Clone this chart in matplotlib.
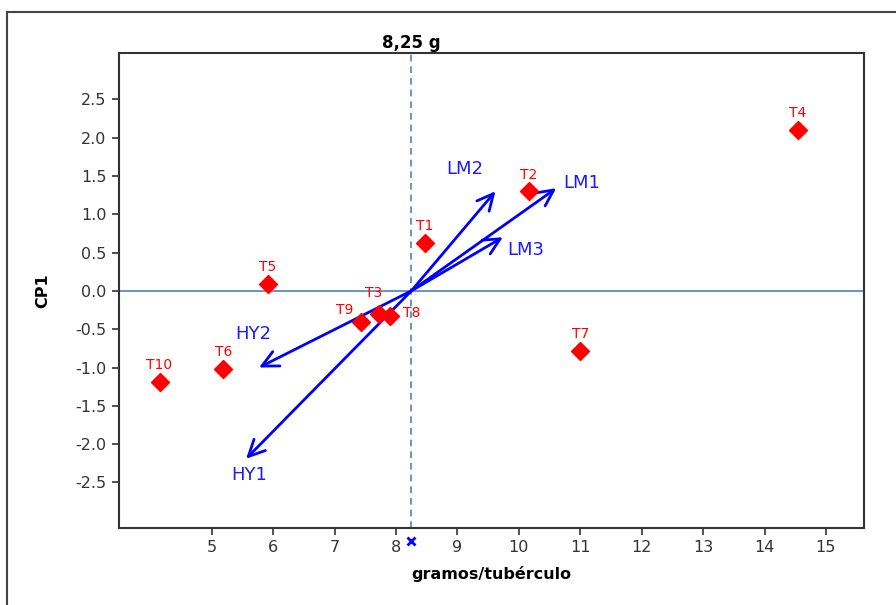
import matplotlib.pyplot as plt
import matplotlib.transforms as mtransforms
from matplotlib.lines import Line2D

# treatment scores (gramos/tuberculo vs CP1)
labels = ['T1', 'T2', 'T3', 'T4', 'T5', 'T6', 'T7', 'T8', 'T9', 'T10']
gramos = [8.47, 10.16, 7.72, 14.54, 5.91, 5.19, 11.0, 7.91, 7.43, 4.15]
cp1 = [0.63, 1.30, -0.30, 2.10, 0.09, -1.02, -0.78, -0.33, -0.41, -1.19]

# variable vectors, drawn from the mean
var_names = ['LM1', 'LM2', 'LM3', 'HY2', 'HY1']
var_x = [10.61, 9.62, 9.74, 5.77, 5.56]
var_y = [1.34, 1.30, 0.70, -1.00, -2.19]
media = 8.25

# label offsets in points
t_off = {'T3': (-4, 15), 'T8': (15, 2), 'T9': (-12, 9)}
v_off = {'LM1': (5, 4), 'LM2': (-22, 16), 'LM3': (3, -9), 'HY2': (-4, 24), 'HY1': (2, -12)}
v_ha = {'LM1': 'left', 'LM2': 'center', 'LM3': 'left', 'HY2': 'center', 'HY1': 'center'}

fig = plt.figure(figsize=(8.96, 6.05), dpi=100)
ax = fig.add_axes([0.1328, 0.1278, 0.8315, 0.7841])

ax.axhline(0, color='#4f81bd', lw=1.2, zorder=1)
ax.axvline(media, color='#4f81bd', lw=1.2, ls=(0, (4, 3)), zorder=1)

for n, x, y in zip(var_names, var_x, var_y):
    ax.annotate('', xy=(x, y), xytext=(media, 0),
                arrowprops=dict(arrowstyle='->,head_length=0.65,head_width=0.32',
                                color='#0000ff', lw=2, mutation_scale=18,
                                shrinkA=0, shrinkB=0), zorder=3)
    ax.annotate(n, xy=(x, y), xytext=v_off[n], textcoords='offset points',
                ha=v_ha[n], va='center', color='#1a1aff', fontsize=13)

ax.plot(gramos, cp1, 'D', color='#ff0000', ms=9, zorder=4)
for lab, x, y in zip(labels, gramos, cp1):
    ax.annotate(lab, xy=(x, y), xytext=t_off.get(lab, (0, 12)), textcoords='offset points',
                ha='center', va='center', color='#ff0000', fontsize=10)

# mean marker below the x axis
trans = mtransforms.blended_transform_factory(ax.transData, ax.transAxes)
ax.plot([media], [-0.028], 'x', color='#0000ff', ms=6, mew=2, clip_on=False, zorder=5,
        transform=trans)

ax.set_xlim(3.49, 15.62)
ax.set_ylim(-3.09, 3.10)
ax.set_xticks(range(5, 16))
ax.set_yticks([-2.5, -2.0, -1.5, -1.0, -0.5, 0.0, 0.5, 1.0, 1.5, 2.0, 2.5])
ax.set_yticklabels(['-2.5', '-2.0', '-1.5', '-1.0', '-0.5', '0.0', '0.5', '1.0', '1.5', '2.0', '2.5'])
ax.tick_params(direction='out', length=5, width=1.2, labelsize=11.5, colors='#333333', pad=4)
for s in ax.spines.values():
    s.set_color('#333333')
    s.set_linewidth(1.5)

ax.set_xlabel('gramos/tubérculo', fontsize=11.5, fontweight='bold', labelpad=8)
ax.set_ylabel('CP1', fontsize=11.5, fontweight='bold', labelpad=18)
ax.set_title('8,25 g', fontsize=12, fontweight='bold', x=(media - 3.49) / (15.62 - 3.49), pad=4)

# outer frame
fig.add_artist(Line2D([7 / 896, 7 / 896], [0, 1 - 12 / 605], color='#444444', lw=1.5))
fig.add_artist(Line2D([7 / 896, 1], [1 - 12 / 605, 1 - 12 / 605], color='#444444', lw=1.5))

fig.savefig('out.png', dpi=100)
